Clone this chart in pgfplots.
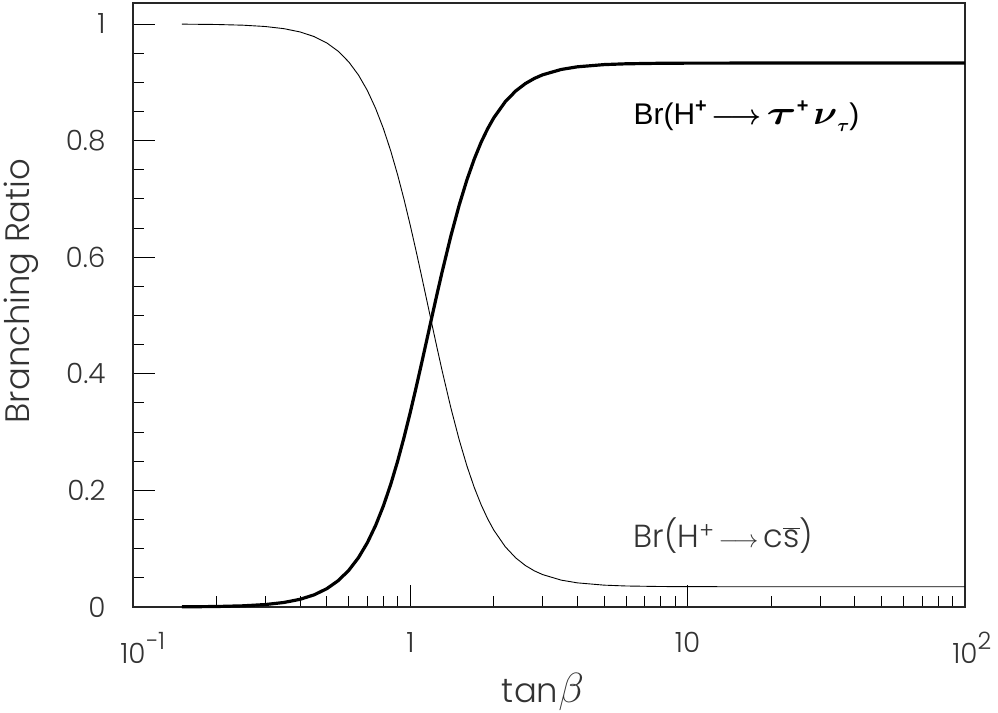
\documentclass[border=0pt]{standalone}
\usepackage{pgfplots}
\pgfplotsset{compat=1.18}
\usepackage{fontspec}
\setmainfont{Poppins Light}
\newfontfamily\arialfont{Liberation Sans}

% Branching ratios of the charged Higgs versus tan(beta)
\pgfplotstableread{
tb      taunu     cs
0.15    0.000264  0.99973
0.20    0.000833  0.99914
0.25    0.00203   0.99790
0.30    0.00420   0.99566
0.35    0.00775   0.99198
0.40    0.01315   0.98640
0.45    0.02088   0.97840
0.50    0.03145   0.96746
0.55    0.04534   0.95309
0.60    0.06295   0.93487
0.65    0.08455   0.91253
0.70    0.11027   0.88591
0.75    0.14006   0.85509
0.80    0.17363   0.82036
0.85    0.21053   0.78218
0.90    0.25011   0.74124
0.95    0.29163   0.69828
1.00    0.33425   0.65419
1.05    0.37716   0.60978
1.10    0.41960   0.56587
1.15    0.46092   0.52313
1.20    0.50057   0.48212
1.25    0.53815   0.44324
1.30    0.57338   0.40678
1.40    0.63630   0.34169
1.50    0.68915   0.28700
1.60    0.73272   0.24192
1.70    0.76824   0.20518
1.80    0.79712   0.17545
1.90    0.82026   0.15136
2.00    0.83906   0.13190
2.20    0.86673   0.10328
2.40    0.88522   0.08416
2.60    0.89782   0.07112
2.80    0.90659   0.06204
3.00    0.91282   0.05559
3.50    0.92200   0.04610
4.00    0.92653   0.04142
5.00    0.93034   0.03747
6.00    0.93172   0.03604
8.00    0.93262   0.03513
10.0    0.93284   0.03488
20.0    0.93299   0.03472
50.0    0.93301   0.03471
100     0.93301   0.03471
}\brtable

\begin{document}
\begin{tikzpicture}
\begin{axis}[
  scale only axis,
  width=832bp, height=604bp,
  xmode=log,
  xmin=0.1, xmax=100,
  ymin=0, ymax=1.036,
  axis line style={line width=1.3pt, black!85},
  tick pos=left,
  tick align=inside,
  major tick length=22bp,
  minor tick length=11bp,
  every tick/.style={black, line width=0.9pt},
  xtick={0.1,1,10,100},
  xticklabels={10\rlap{\raisebox{0.5em}{\fontsize{24}{28}\selectfont\textminus1}},1,10,10\rlap{\raisebox{0.5em}{\fontsize{24}{28}\selectfont 2}}},
  minor xtick={0.2,0.3,0.4,0.5,0.6,0.7,0.8,0.9,2,3,4,5,6,7,8,9,20,30,40,50,60,70,80,90},
  ytick={0,0.2,0.4,0.6,0.8,1},
  minor ytick={0.05,0.1,0.15,0.25,0.3,0.35,0.45,0.5,0.55,0.65,0.7,0.75,0.85,0.9,0.95},
  /pgf/number format/assume math mode=true,
  tick label style={font=\fontsize{28}{32}\selectfont, text=black!80},
  yticklabel style={xshift=-24bp},
  xticklabel style={yshift=-22bp},
  xlabel={tan\raisebox{0.02em}{\scalebox{1.7}{$\beta$}}},
  ylabel={Branching Ratio},
  label style={font=\fontsize{34}{38}\selectfont, text=black!80},
  xlabel style={yshift=-2bp, xshift=-6bp},
  ylabel style={yshift=20bp, xshift=14bp},
  clip=false,
]
\addplot[line width=0.9pt, black] table[x=tb, y=cs] {\brtable};
\addplot[line width=3.2pt, black] table[x=tb, y=taunu] {\brtable};

\node[anchor=base west, inner sep=0pt, font=\arialfont\fontsize{30}{34}\selectfont]
  at (axis cs:6.38,0.8268) {Br(H\raisebox{0.42em}{\textbf{\fontsize{20}{22}\selectfont +}}\,{\boldmath\resizebox{50bp}{11bp}{$\longrightarrow$}}\,{\boldmath\resizebox{30bp}{15bp}{$\tau$}}\raisebox{0.42em}{\textbf{\fontsize{20}{22}\selectfont +}}\,{\boldmath\resizebox{24bp}{15bp}{$\nu$}}\raisebox{-0.22em}{\boldmath\resizebox{12bp}{8bp}{$\tau$}})};
\node[anchor=base west, inner sep=0pt, font=\fontsize{32}{36}\selectfont, text=black!80]
  at (axis cs:6.38,0.1029) {Br(H\textsuperscript{+}$\,\longrightarrow$\,c$\overline{\hbox{s}}$)};

\coordinate (bl) at (rel axis cs:0,0);
\end{axis}
\pgfresetboundingbox
\path (bl) ++(-133bp,-106bp) rectangle ++(998bp,713bp);
\end{tikzpicture}
\end{document}
